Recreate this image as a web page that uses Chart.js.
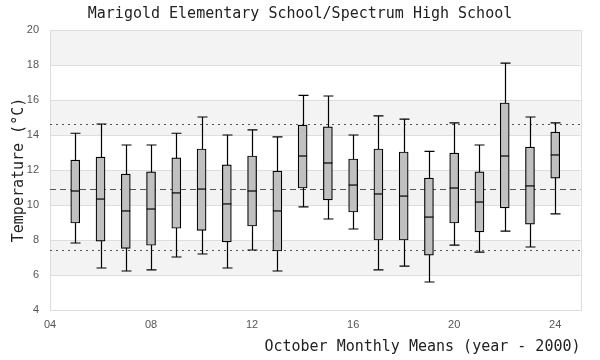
<!DOCTYPE html>
<html>
<head>
<meta charset="utf-8">
<script src="https://cdn.jsdelivr.net/npm/chart.js@4"></script>
<style>
  body { margin: 0; background: #fff; }
  #wrap { width: 600px; height: 360px; }
</style>
</head>
<body>
<div id="wrap"><canvas id="boxChart"></canvas></div>
<script>
// años (año - 2000) y estadísticos de cada caja
const years = [5, 6, 7, 8, 9, 10, 11, 12, 13, 14, 15, 16, 17, 18, 19, 20, 21, 22, 23, 24];
const whiskerHigh = [14.10, 14.63, 13.43, 13.43, 14.10, 15.03, 14.00, 14.29, 13.89, 16.27, 16.23, 14.00, 15.09, 14.91, 13.07, 14.69, 13.43, 18.11, 15.03, 14.69];
const q3 = [12.57, 12.74, 11.77, 11.89, 12.69, 13.20, 12.29, 12.80, 11.94, 14.57, 14.46, 12.63, 13.20, 13.03, 11.54, 12.97, 11.89, 15.83, 13.31, 14.17];
const median = [10.80, 10.34, 9.66, 9.77, 10.69, 10.91, 10.06, 10.80, 9.66, 12.80, 12.40, 11.14, 10.63, 10.51, 9.31, 10.97, 10.17, 12.80, 11.09, 12.86];
const q1 = [8.97, 7.94, 7.52, 7.70, 8.67, 8.55, 7.89, 8.80, 7.37, 10.97, 10.29, 9.60, 8.00, 8.00, 7.14, 8.97, 8.46, 9.83, 8.91, 11.54];
const whiskerLow = [7.83, 6.40, 6.23, 6.29, 7.03, 7.20, 6.40, 7.43, 6.23, 9.89, 9.20, 8.63, 6.29, 6.51, 5.60, 7.71, 7.31, 8.51, 7.60, 9.49];

// líneas de referencia: media y +/- límites
const meanLine = 10.91;
const upperLine = 14.63;
const lowerLine = 7.43;

const xTicks = [4, 8, 12, 16, 20, 24];
const yBands = [[6, 8], [10, 12], [14, 16], [18, 20]];

const boxPlugin = {
    id: 'boxPlugin',
    beforeDatasetsDraw(chart) {
        const { ctx, chartArea: a, scales: { x, y } } = chart;
        ctx.save();
        // bandas grises alternas
        ctx.fillStyle = '#f3f3f3';
        yBands.forEach(b => {
            const t = y.getPixelForValue(b[1]);
            const bt = y.getPixelForValue(b[0]);
            ctx.fillRect(a.left, t, a.right - a.left, bt - t);
        });
        // líneas horizontales del eje y
        ctx.strokeStyle = '#dddddd';
        ctx.lineWidth = 1;
        y.ticks.forEach(t => {
            const py = Math.round(y.getPixelForValue(t.value)) + 0.5;
            ctx.beginPath();
            ctx.moveTo(a.left, py);
            ctx.lineTo(a.right, py);
            ctx.stroke();
        });
        ctx.strokeRect(Math.round(a.left) + 0.5, Math.round(a.top) + 0.5, Math.round(a.right - a.left), Math.round(a.bottom - a.top));

        // líneas de referencia
        ctx.strokeStyle = '#555555';
        [[upperLine, [2, 4]], [lowerLine, [2, 4]], [meanLine, [6, 4]]].forEach(([v, dash]) => {
            const py = Math.round(y.getPixelForValue(v)) + 0.5;
            ctx.setLineDash(dash);
            ctx.beginPath();
            ctx.moveTo(a.left, py);
            ctx.lineTo(a.right, py);
            ctx.stroke();
        });
        ctx.setLineDash([]);

        // bigotes
        ctx.strokeStyle = '#000';
        ctx.lineWidth = 1.2;
        years.forEach((yr, i) => {
            const px = Math.round(x.getPixelForValue(yr)) + 0.5;
            const hi = y.getPixelForValue(whiskerHigh[i]);
            const lo = y.getPixelForValue(whiskerLow[i]);
            ctx.beginPath();
            ctx.moveTo(px, hi);
            ctx.lineTo(px, lo);
            ctx.moveTo(px - 5, hi);
            ctx.lineTo(px + 5, hi);
            ctx.moveTo(px - 5, lo);
            ctx.lineTo(px + 5, lo);
            ctx.stroke();
        });
        ctx.restore();
    },
    afterDatasetsDraw(chart) {
        const { ctx, scales: { x, y } } = chart;
        ctx.save();
        ctx.strokeStyle = '#000';
        ctx.lineWidth = 1.2;
        years.forEach((yr, i) => {
            const px = x.getPixelForValue(yr);
            const py = y.getPixelForValue(median[i]);
            ctx.beginPath();
            ctx.moveTo(px - 4.5, py);
            ctx.lineTo(px + 4.5, py);
            ctx.stroke();
        });
        ctx.restore();
    }
};

const ctx = document.getElementById('boxChart').getContext('2d');
const boxChart = new Chart(ctx, {
    type: 'bar',
    data: {
        datasets: [{
            label: 'Caja',
            data: years.map((yr, i) => ({ x: yr, y: [q1[i], q3[i]] })),
            backgroundColor: '#c0c0c0',
            borderColor: '#000',
            borderWidth: 1.2,
            borderSkipped: false,
            barThickness: 9
        }]
    },
    options: {
        responsive: true,
        maintainAspectRatio: false,
        animation: false,
        layout: { padding: 0 },
        plugins: {
            legend: { display: false },
            tooltip: { enabled: false },
            title: {
                display: true,
                text: 'Marigold Elementary School/Spectrum High School',
                color: '#222',
                font: { family: 'DejaVu Sans Mono', size: 15, weight: 'normal' },
                padding: { top: 5, bottom: 7 }
            }
        },
        scales: {
            x: {
                type: 'linear',
                min: 4,
                max: 25,
                offset: false,
                grid: { display: false, drawTicks: false },
                border: { display: false },
                afterBuildTicks: axis => { axis.ticks = xTicks.map(v => ({ value: v })); },
                afterFit: axis => { axis.height = 50; },
                ticks: {
                    color: '#555',
                    padding: 8,
                    autoSkip: false,
                    maxRotation: 0,
                    font: { family: 'Liberation Sans', size: 11 },
                    callback: v => String(v).padStart(2, '0')
                },
                title: {
                    display: true,
                    text: 'October Monthly Means (year - 2000)',
                    align: 'end',
                    color: '#222',
                    font: { family: 'DejaVu Sans Mono', size: 15 },
                    padding: { top: 0, bottom: 4 }
                }
            },
            y: {
                min: 4,
                max: 20,
                grid: { display: false, drawTicks: false },
                border: { display: false },
                afterFit: axis => { axis.width = 50; },
                ticks: {
                    stepSize: 2,
                    color: '#555',
                    padding: 11,
                    font: { family: 'Liberation Sans', size: 11 }
                },
                title: {
                    display: true,
                    text: 'Temperature (°C)',
                    color: '#222',
                    font: { family: 'DejaVu Sans Mono', size: 15 },
                    padding: { top: 10, bottom: 0 }
                }
            },
            // eje vacío a la derecha, solo para dejar el margen
            yRight: {
                position: 'right',
                display: true,
                grid: { display: false, drawTicks: false },
                border: { display: false },
                ticks: { display: false },
                afterFit: axis => { axis.width = 19.5; }
            }
        }
    },
    plugins: [boxPlugin]
});
</script>
</body>
</html>
